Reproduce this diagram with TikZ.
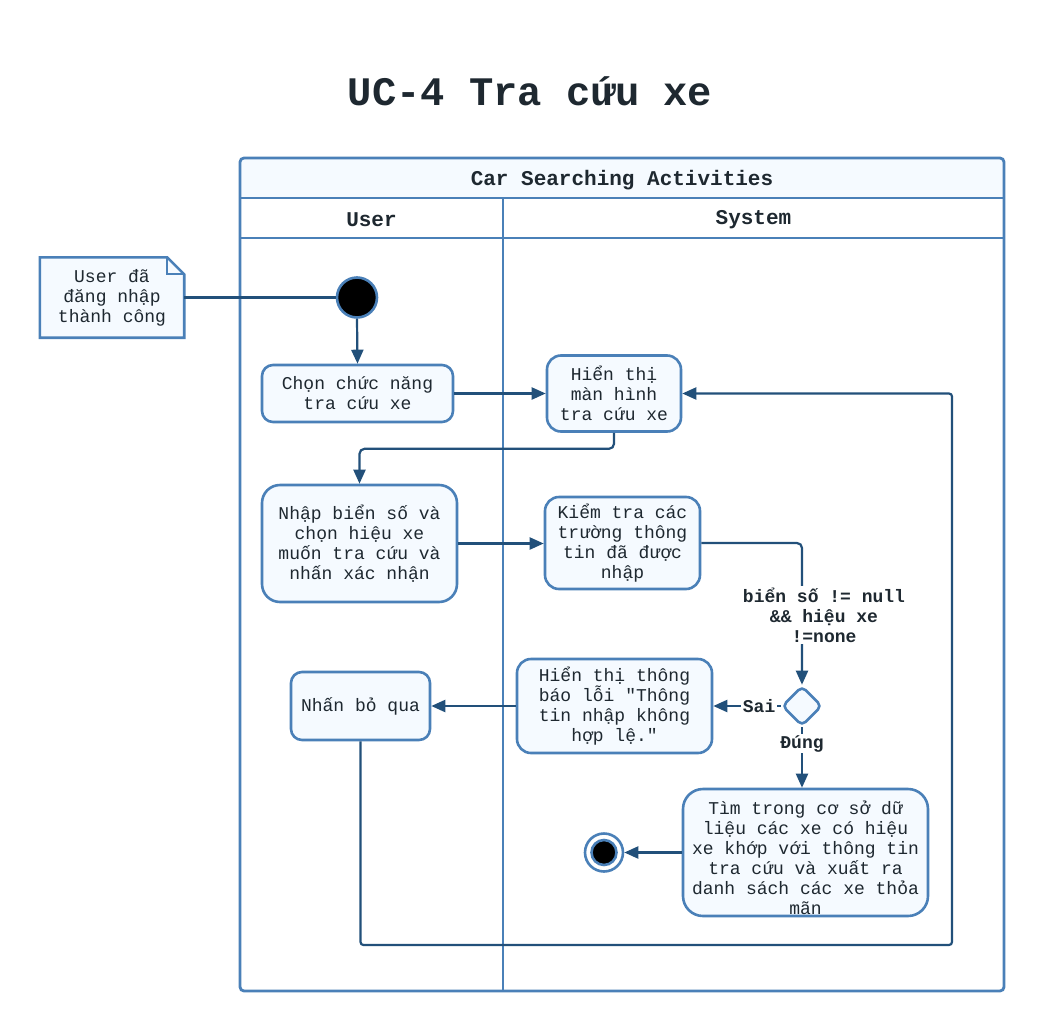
\documentclass[tikz,border=0pt]{standalone}
\usepackage{fontspec}
\setmainfont{Liberation Mono}
\usetikzlibrary{arrows.meta,shapes.geometric,calc}

\definecolor{laneblue}{HTML}{4A80B8}
\definecolor{boxfill}{HTML}{F5FAFF}
\definecolor{flow}{HTML}{22507A}
\definecolor{ink}{HTML}{1E2830}

\newcommand{\actfont}{\fontsize{18}{20}\selectfont}
\newcommand{\headfont}{\fontsize{21}{24}\selectfont\bfseries}
% straight double quote, set as a glyph so no TeX quote mapping applies
\newcommand{\dq}{\XeTeXglyph\XeTeXcharglyph"22\relax}

\tikzset{
  act/.style={draw=laneblue, line width=2.6pt, fill=boxfill, rounded corners=14pt,
    align=center, font=\actfont, text=ink, inner sep=0pt},
  lane/.style={draw=laneblue, line width=2.8pt},
  flowline/.style={draw=flow, line width=2.2pt, rounded corners=5pt,
    -{Triangle[length=14pt,width=12pt]}},
  plainline/.style={draw=flow, line width=2.2pt},
  guard/.style={font=\actfont\bfseries, text=ink, fill=white, inner sep=1.5pt, align=center},
  headtext/.style={font=\headfont, text=ink},
}

\begin{document}
\begin{tikzpicture}[x=1pt, y=-1pt]
  \useasboundingbox (0,0) rectangle (1045,1031);
  \fill[white] (0,0) rectangle (1045,1031);

  % title
  \node[font=\fontsize{40.5}{44}\selectfont\bfseries, text=ink] (title) at (530,91) {UC-4 Tra cứu xe};

  % swimlane pool
  \fill[boxfill, rounded corners=4pt] (240,158) rectangle (1004,198);
  \draw[lane, rounded corners=4pt] (240,158) rectangle (1004,991);
  \draw[lane] (240,198) -- (1004,198);
  \draw[lane] (240,238) -- (1004,238);
  \draw[lane] (503,198) -- (503,991);
  \node[headtext] (poolhead) at (622,180) {Car Searching Activities};
  \node[headtext] (userhead) at (371.5,219.5) {User};
  \node[headtext] (syshead) at (753.5,219.5) {System};

  % precondition note
  \node[minimum width=144pt, minimum height=80pt, inner sep=0pt] (note) at (112,297.5) {};
  \draw[draw=laneblue, fill=boxfill, line width=2.6pt]
    (note.south west) -- (note.north west) -- ($(note.north east)+(-17,0)$)
    -- ($(note.north east)+(0,17)$) -- (note.south east) -- cycle;
  \draw[draw=laneblue, line width=2pt]
    ($(note.north east)+(-17,0)$) -- ($(note.north east)+(-17,17)$) -- ($(note.north east)+(0,17)$);
  \node[font=\actfont, text=ink, align=center] (notetext) at (note) {User đã\\đăng nhập\\thành công};

  % start node
  \node[circle, fill=black, draw=laneblue, line width=2.6pt, minimum size=40pt, inner sep=0pt] (start) at (357,297.5) {};

  % activities
  \node[act, minimum width=191pt, minimum height=57pt, rounded corners=11pt] (chon) at (357.5,393.5) {Chọn chức năng\\tra cứu xe};
  \node[act, minimum width=134pt, minimum height=76pt] (hien) at (614,393.5) {Hiển thị\\màn hình\\tra cứu xe};
  \node[act, minimum width=195pt, minimum height=117pt, rounded corners=18pt] (nhap) at (359.5,543.5) {Nhập biển số và\\chọn hiệu xe\\muốn tra cứu và\\nhấn xác nhận};
  \node[act, minimum width=155pt, minimum height=92pt] (kiem) at (622.5,543) {Kiểm tra các\\trường thông\\tin đã được\\nhập};
  \node[act, minimum width=195pt, minimum height=94pt] (loi) at (614.5,706) {Hiển thị thông\\báo lỗi \dq Thông\\tin nhập không\\hợp lệ.\dq};
  \node[act, minimum width=139pt, minimum height=68pt, rounded corners=11pt] (bo) at (360.5,706) {Nhấn bỏ qua};
  \node[act, minimum width=245pt, minimum height=127pt, rounded corners=20pt] (tim) at (805.5,852.5) {};
  \node[font=\actfont, text=ink, align=center] (timtext) at (805.5,858) {Tìm trong cơ sở dữ\\liệu các xe có hiệu\\xe khớp với thông tin\\tra cứu và xuất ra\\danh sách các xe thỏa\\mãn};

  % decision
  \node[diamond, draw=laneblue, fill=boxfill, line width=2.6pt, minimum width=40pt,
        minimum height=40pt, inner sep=0pt, rounded corners=5pt] (dec) at (802,706) {};

  % final node
  \node[circle, draw=laneblue, fill=white, line width=2.6pt, minimum size=38pt, inner sep=0pt] (stop) at (604,852.5) {};
  \node[circle, draw=laneblue, fill=black, line width=2.6pt, minimum size=25pt, inner sep=0pt] (stopdot) at (stop) {};

  % connectors
  \draw[plainline] (note.east) -- (start.west);
  \draw[flowline] (start.south) -- (chon.north);
  \draw[flowline] (chon.east) -- (chon.east -| hien.west);
  \draw[flowline] (hien.south) -- ++(0,16) -| (nhap.north);
  \draw[flowline] (nhap.east) -- (nhap.east -| kiem.west);
  \draw[flowline] (kiem.east) -| (dec.north);
  \node[guard] (cond) at (824,615) {biển số != null\\\&\& hiệu xe\\!=none};
  \draw[flowline, rounded corners=0pt] (dec.west) -- node[guard, pos=0.32] (sai) {Sai} (dec.west -| loi.east);
  \draw[flowline, rounded corners=0pt] (dec.south) -- node[guard, pos=0.27] (dung) {Đúng} (tim.north -| dec.south);
  \draw[flowline] (loi.west) -- (loi.west -| bo.east);
  \coordinate (loopturn) at (952,945);
  \draw[flowline, rounded corners=3pt] (bo.south) |- (loopturn) |- (hien.east);
  \draw[flowline] (tim.west) -- (tim.west -| stop.east);
\end{tikzpicture}
\end{document}
